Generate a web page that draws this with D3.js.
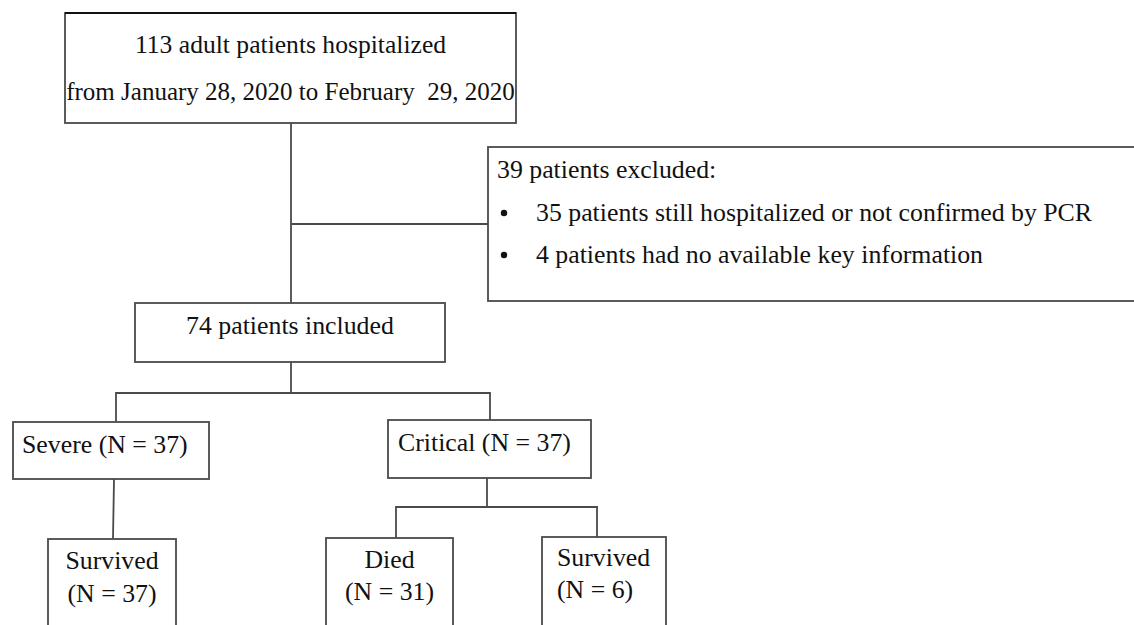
<!DOCTYPE html>
<html>
<head>
<meta charset="utf-8">
<script src="https://cdn.jsdelivr.net/npm/d3@7"></script>
<style>
  body { margin: 0; background: #fff; }
  svg { display: block; }
</style>
</head>
<body>
<svg id="chart" width="1134" height="625"></svg>
<script>
// flowchart content
const nodeKeys = ["total", "included", "severe", "critical", "severeSurvived", "died", "criticalSurvived"];
const nodeParents = [null, "total", "included", "included", "severe", "critical", "critical"];
const nodeCounts = [113, 74, 37, 37, 37, 31, 6];
const studyPeriod = ["January 28, 2020", "February  29, 2020"];
const exclusionCounts = [39, 35, 4];
const exclusionReasons = ["still hospitalized or not confirmed by PCR", "had no available key information"];

const nodeLines = [
  [`${nodeCounts[0]} adult patients hospitalized`, `from ${studyPeriod[0]} to ${studyPeriod[1]}`],
  [`${nodeCounts[1]} patients included`],
  [`Severe (N = ${nodeCounts[2]})`],
  [`Critical (N = ${nodeCounts[3]})`],
  ["Survived", `(N = ${nodeCounts[4]})`],
  ["Died", `(N = ${nodeCounts[5]})`],
  ["Survived", `(N = ${nodeCounts[6]})`]
];
const exclusionLines = [
  `${exclusionCounts[0]} patients excluded:`,
  `${exclusionCounts[1]} patients ${exclusionReasons[0]}`,
  `${exclusionCounts[2]} patients ${exclusionReasons[1]}`
];

// layout of the boxes (px)
const boxes = {
  total:            { x: 65,  y: 13,  w: 451, h: 110, lineY: [53, 100], size: [25.6, 25], align: "middle" },
  included:         { x: 135, y: 303, w: 310, h: 59,  lineY: [334], align: "middle" },
  severe:           { x: 13,  y: 422, w: 196, h: 57,  lineY: [453], align: "start", tx: 22 },
  critical:         { x: 388, y: 420, w: 203, h: 58,  lineY: [451], align: "start", tx: 398 },
  severeSurvived:   { x: 48,  y: 539, w: 128, h: 110, lineY: [569, 602], align: "middle" },
  died:             { x: 326, y: 538, w: 127, h: 110, lineY: [568, 600], align: "middle" },
  criticalSurvived: { x: 542, y: 537, w: 124, h: 110, lineY: [566, 598], align: "start", tx: 557 }
};
const exclusionBox = { x: 488, y: 147, w: 660, h: 154, lineY: [178, 221, 263] };
// connector geometry: where a link enters each child, where each parent's trunk drops and splits
const anchorX = { included: 291, severe: 116, critical: 490, severeSurvived: 113, died: 396, criticalSurvived: 597 };
const trunkX = { total: 291, included: 291, severe: 114, critical: 487 };
const splitY = { total: 224, included: 393, critical: 507 };

const svg = d3.select("#chart");
const stroke = "#4a4a4a";
const font = "'Liberation Serif', 'Times New Roman', serif";
const fontSize = 25.8;

const nodes = nodeKeys.map((k, i) => ({ key: k, parent: nodeParents[i], lines: nodeLines[i], box: boxes[k] }));

// connectors
const linkG = svg.append("g").attr("fill", "none").attr("stroke", stroke).attr("stroke-width", 1.8);
d3.groups(nodes.filter(d => d.parent), d => d.parent).forEach(([parentKey, kids]) => {
  const p = boxes[parentKey];
  const bottom = p.y + p.h;
  const tx = trunkX[parentKey];
  if (kids.length === 1) {
    const k = kids[0];
    linkG.append("line")
      .attr("x1", tx).attr("y1", bottom)
      .attr("x2", anchorX[k.key]).attr("y2", k.box.y);
    return;
  }
  const sy = splitY[parentKey];
  const xs = kids.map(k => anchorX[k.key]);
  linkG.append("line").attr("x1", tx).attr("y1", bottom).attr("x2", tx).attr("y2", sy);
  linkG.append("line").attr("x1", d3.min(xs)).attr("y1", sy).attr("x2", d3.max(xs)).attr("y2", sy);
  kids.forEach(k => {
    linkG.append("line")
      .attr("x1", anchorX[k.key]).attr("y1", sy - 1)
      .attr("x2", anchorX[k.key]).attr("y2", k.box.y);
  });
});
// side branch to the exclusions
linkG.append("line")
  .attr("x1", trunkX.total).attr("y1", splitY.total)
  .attr("x2", exclusionBox.x).attr("y2", splitY.total);

// boxes
const nodeG = svg.append("g").selectAll("g").data(nodes).join("g");
nodeG.append("rect")
  .attr("x", d => d.box.x).attr("y", d => d.box.y)
  .attr("width", d => d.box.w).attr("height", d => d.box.h)
  .attr("fill", "#fff").attr("stroke", stroke).attr("stroke-width", 1.8);
nodeG.each(function(d) {
  const g = d3.select(this);
  d.lines.forEach((line, i) => {
    g.append("text")
      .attr("x", d.box.align === "middle" ? d.box.x + d.box.w / 2 : d.box.tx)
      .attr("y", d.box.lineY[i])
      .attr("text-anchor", d.box.align)
      .attr("font-family", font)
      .attr("font-size", d.box.size ? d.box.size[i] : fontSize)
      .attr("fill", "#111")
      .style("white-space", "pre")
      .text(line);
  });
});
// top edge of the first box is darker in the source
svg.append("line")
  .attr("x1", boxes.total.x).attr("y1", boxes.total.y)
  .attr("x2", boxes.total.x + boxes.total.w).attr("y2", boxes.total.y)
  .attr("stroke", "#111").attr("stroke-width", 2);

// exclusion box
const exG = svg.append("g");
exG.append("rect")
  .attr("x", exclusionBox.x).attr("y", exclusionBox.y)
  .attr("width", exclusionBox.w).attr("height", exclusionBox.h)
  .attr("fill", "#fff").attr("stroke", stroke).attr("stroke-width", 1.8);
exclusionLines.forEach((line, i) => {
  exG.append("text")
    .attr("x", i === 0 ? exclusionBox.x + 9 : exclusionBox.x + 48)
    .attr("y", exclusionBox.lineY[i])
    .attr("font-family", font).attr("font-size", fontSize)
    .attr("fill", "#111")
    .text(line);
  if (i > 0) {
    exG.append("circle")
      .attr("cx", exclusionBox.x + 16)
      .attr("cy", exclusionBox.lineY[i] - 8)
      .attr("r", 3.2)
      .attr("fill", "#111");
  }
});
</script>
</body>
</html>
